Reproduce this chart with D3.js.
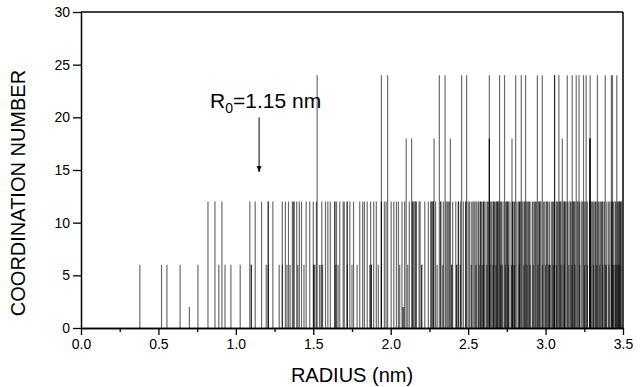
<!DOCTYPE html>
<html>
<head>
<meta charset="utf-8">
<script src="https://cdn.jsdelivr.net/npm/d3@7/dist/d3.min.js"></script>
<style>
body { margin: 0; background: #fff; }
text { font-family: "Liberation Sans", Arial, sans-serif; fill: #000; }
</style>
</head>
<body>
<div id="chart-area"></div>
<script>
// radii (nm) of atoms, grouped by coordination number
var radiusCN24 = [1.525, 1.94, 1.98, 2.314, 2.351, 2.458, 2.49, 2.637, 2.703, 2.735, 2.807, 2.843, 2.871,
	2.947, 2.979, 3.058, 3.058, 3.086, 3.14, 3.172, 3.198, 3.216, 3.245, 3.262, 3.288, 3.335, 3.385, 3.425, 3.432, 3.46];
var radiusCN18 = [2.10, 2.135, 2.28, 2.385, 2.637, 2.637, 2.783, 3.108, 3.284, 3.288, 3.288];
var radiusCN12 = [0.82, 0.865, 0.91, 1.09, 1.125, 1.166, 1.209, 1.209, 1.239, 1.30, 1.32, 1.34, 1.365, 1.372,
	1.377, 1.393, 1.41, 1.424, 1.454, 1.477, 1.50, 1.52, 1.555, 1.579, 1.594, 1.61, 1.639, 1.639, 1.65, 1.671,
	1.693, 1.70, 1.719, 1.719, 1.736, 1.76, 1.80, 1.819, 1.83, 1.848, 1.87, 1.89, 1.907, 1.94, 1.94, 1.959,
	1.97, 2.003, 2.02, 2.037, 2.05, 2.073, 2.09, 2.12, 2.142, 2.142, 2.15, 2.158, 2.164, 2.164, 2.183, 2.19,
	2.22, 2.243, 2.26, 2.26, 2.268, 2.275, 2.275, 2.29, 2.323, 2.323, 2.34, 2.357, 2.365, 2.372, 2.38, 2.40,
	2.42, 2.437, 2.437, 2.45, 2.469, 2.484, 2.484, 2.50, 2.508, 2.52, 2.53, 2.538, 2.545, 2.555, 2.565, 2.57,
	2.58, 2.58, 2.588, 2.598, 2.598, 2.605, 2.615, 2.625, 2.63, 2.645, 2.652, 2.663, 2.663, 2.67, 2.675,
	2.684, 2.688, 2.688, 2.695, 2.70, 2.71, 2.715, 2.725, 2.74, 2.75, 2.75, 2.755, 2.76, 2.77, 2.786, 2.786,
	2.795, 2.80, 2.815, 2.825, 2.832, 2.832, 2.84, 2.85, 2.86, 2.865, 2.875, 2.882, 2.89, 2.895, 2.90, 2.914,
	2.92, 2.929, 2.935, 2.94, 2.955, 2.962, 2.962, 2.97, 2.987, 2.995, 3.005, 3.01, 3.015, 3.025, 3.037,
	3.045, 3.05, 3.058, 3.069, 3.075, 3.08, 3.09, 3.095, 3.10, 3.115, 3.123, 3.123, 3.13, 3.14, 3.151,
	3.16, 3.165, 3.175, 3.183, 3.183, 3.19, 3.205, 3.21, 3.22, 3.231, 3.24, 3.25, 3.26, 3.27, 3.284, 3.29,
	3.30, 3.30, 3.31, 3.318, 3.325, 3.325, 3.34, 3.346, 3.355, 3.364, 3.364, 3.37, 3.38, 3.395, 3.406,
	3.415, 3.425, 3.432, 3.44, 3.45, 3.455, 3.465, 3.47, 3.475, 3.48, 3.48, 3.485, 3.49];
var radiusCN6 = [0.38, 0.52, 0.555, 0.64, 0.755, 0.89, 0.93, 0.968, 1.028, 1.10, 1.10, 1.196, 1.21, 1.28,
	1.30, 1.33, 1.35, 1.40, 1.44, 1.503, 1.503, 1.51, 1.54, 1.55, 1.56, 1.645, 1.66, 1.72, 1.75, 1.783,
	1.865, 1.875, 1.875, 1.92, 1.94, 2.058, 2.11, 2.20, 2.20, 2.30, 2.336, 2.394, 2.394, 2.426, 2.426,
	2.45, 2.52, 2.55, 2.57, 2.59, 2.60, 2.62, 2.64, 2.66, 2.68, 2.71, 2.72, 2.74, 2.76, 2.78, 2.79, 2.80,
	2.83, 2.86, 2.88, 2.90, 2.92, 2.95, 2.98, 3.0, 3.022, 3.022, 3.03, 3.05, 3.07, 3.10, 3.12, 3.15, 3.17,
	3.19, 3.22, 3.252, 3.27, 3.29, 3.31, 3.33, 3.35, 3.37, 3.39, 3.39, 3.41, 3.43, 3.44, 3.45, 3.46,
	3.47, 3.48];
var radiusCN2 = [0.70, 2.078, 2.084];

var xTicks = [0, 0.5, 1.0, 1.5, 2.0, 2.5, 3.0, 3.5];
var xMinorTicks = [0.25, 0.75, 1.25, 1.75, 2.25, 2.75, 3.25];
var yTicks = [0, 5, 10, 15, 20, 25, 30];
var r0 = 1.15;

var margin = {left: 81, right: 21, top: 12, bottom: 59};
var width = 644 - margin.left - margin.right;
var height = 387 - margin.top - margin.bottom;

var svg = d3.select("#chart-area").append("svg").attr("width", 644).attr("height", 387);
var graph = svg.append("g").attr("transform", "translate(" + margin.left + "," + margin.top + ")");

var x = d3.scaleLinear().domain([0, 3.5]).range([0, width]);
var y = d3.scaleLinear().domain([0, 30]).range([height, 0]);

var spikes = [];
[[radiusCN24, 24], [radiusCN18, 18], [radiusCN12, 12], [radiusCN6, 6], [radiusCN2, 2]].forEach((g) => {
	g[0].forEach((r) => { spikes.push({r: r, cn: g[1]}); });
});

graph.append("g").selectAll("line").data(spikes).enter().append("line")
	.attr("x1", (d) => { return x(d.r); })
	.attr("x2", (d) => { return x(d.r); })
	.attr("y1", y(0))
	.attr("y2", (d) => { return y(d.cn); })
	.attr("stroke", "#000").attr("stroke-opacity", 0.58).attr("stroke-width", 1.2);

// axes
var xAxis = d3.axisBottom(x).tickValues(xTicks).tickFormat(d3.format(".1f")).tickSizeInner(7).tickSizeOuter(0).tickPadding(4);
var xMinor = d3.axisBottom(x).tickValues(xMinorTicks).tickFormat("").tickSizeInner(4).tickSizeOuter(0);
var yAxis = d3.axisLeft(y).tickValues(yTicks).tickFormat(d3.format("d")).tickSizeInner(8).tickSizeOuter(0).tickPadding(3);

var xg = graph.append("g").attr("transform", "translate(0," + height + ")").call(xAxis);
graph.append("g").attr("transform", "translate(0," + height + ")").call(xMinor);
var yg = graph.append("g").call(yAxis);

graph.selectAll(".domain").attr("stroke-width", 1.5);
graph.selectAll(".tick line").attr("stroke-width", 1.3);
xg.selectAll("text").attr("font-size", "14px");
yg.selectAll("text").attr("font-size", "14px");

// frame
graph.append("line").attr("x1", 0).attr("x2", width).attr("y1", 0).attr("y2", 0).attr("stroke", "#000").attr("stroke-width", 1.5);
graph.append("line").attr("x1", width).attr("x2", width).attr("y1", 0).attr("y2", height).attr("stroke", "#000").attr("stroke-width", 1.5);

// titles
svg.append("text").attr("x", margin.left + width / 2).attr("y", 382).attr("text-anchor", "middle")
	.attr("font-size", "20px").text("RADIUS (nm)");
svg.append("text").attr("transform", "translate(25,193) rotate(-90)")
	.attr("text-anchor", "middle").attr("font-size", "20px").text("COORDINATION NUMBER");

// R0 annotation
svg.append("defs").append("marker").attr("id", "head").attr("viewBox", "0 0 10 10")
	.attr("refX", 10).attr("refY", 5).attr("markerWidth", 6).attr("markerHeight", 6).attr("orient", "auto")
	.append("path").attr("d", "M0,1L10,5L0,9Z").attr("fill", "#000");

graph.append("line").attr("x1", x(r0)).attr("x2", x(r0)).attr("y1", y(20)).attr("y2", y(14.8))
	.attr("stroke", "#000").attr("stroke-width", 1).attr("marker-end", "url(#head)");

var note = graph.append("text").attr("x", x(r0) - 49).attr("y", y(20.9)).attr("font-size", "21px");
note.append("tspan").text("R");
note.append("tspan").attr("font-size", "14px").attr("dy", 5).text("0");
note.append("tspan").attr("dy", -5).text("=1.15 nm");
</script>
</body>
</html>
